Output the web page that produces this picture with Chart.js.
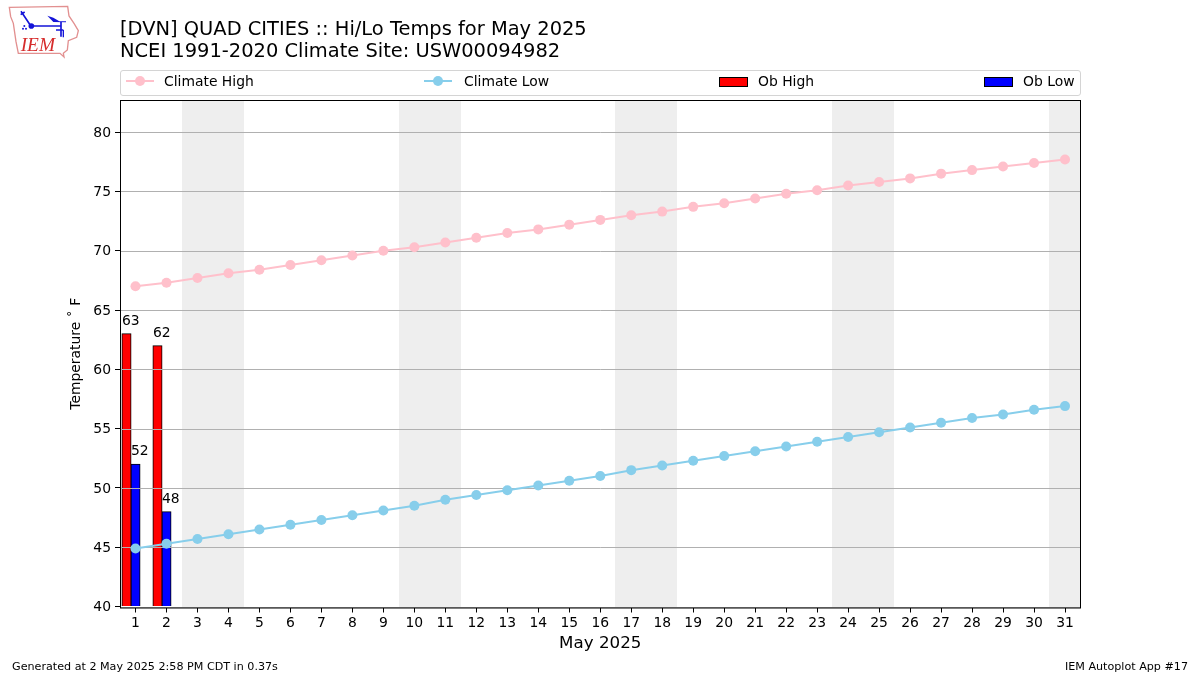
<!DOCTYPE html>
<html lang="en">
<head>
<meta charset="UTF-8">
<title>Hi/Lo Temps for May 2025</title>
<style>
    body { margin: 0; background: #fff; font-family: "DejaVu Sans", sans-serif; color: #000; }
    #wrap { position: relative; width: 1200px; height: 675px; overflow: hidden; }
    #wrap canvas { position: absolute; left: 0; top: 0; }
    .abs { position: absolute; white-space: nowrap; }
    #title { left: 120px; top: 18px; font-size: 19.44px; line-height: 22px; }
    #legend { left: 120px; top: 70px; width: 959px; height: 24px; border: 1px solid #d4d4d4; border-radius: 3px; }
    .foot { font-size: 11.15px; top: 660px; }
    .lg { font-size: 13.9px; top: 73px; line-height: 17px; }
</style>
<script src="https://cdn.jsdelivr.net/npm/chart.js"></script>
</head>
<body>
<div id="wrap">
    <canvas id="chart" width="1200" height="675"></canvas>

    <svg class="abs" style="left:0;top:0" width="90" height="65" viewBox="0 0 270 195">
        <path d="M28 22 L203 19 L207 48 L222 70 L235 92 L230 112 L205 122 L202 150 L190 160 L192 171 L180 160 L55 160 L48 125 L40 70 L32 50 Z" fill="none" stroke="#e29090" stroke-width="4"/>
        <path d="M93 78 L185 78 M183 66 L183 110 M63 34 L90 74 M62 44 L74 36" fill="none" stroke="#1414d8" stroke-width="5"/>
        <path d="M142 47 Q160 50 178 64 L198 64 L198 67 L160 66 Z" fill="#1414d8"/>
        <circle cx="94" cy="78" r="8.5" fill="#1414d8"/>
        <circle cx="73" cy="78" r="3" fill="#1414d8"/><circle cx="69" cy="86" r="3" fill="#1414d8"/><circle cx="78" cy="86" r="3" fill="#1414d8"/>
        <path d="M168 90 h22 M190 90 v22" stroke="#1414d8" stroke-width="4" fill="none"/>
        <text x="62" y="154" font-family="Liberation Serif" font-style="italic" font-size="58" fill="#d62c2c">IEM</text>
    </svg>

    <div id="title" class="abs">[DVN] QUAD CITIES :: Hi/Lo Temps for May 2025<br>NCEI 1991-2020 Climate Site: USW00094982</div>

    <div id="legend" class="abs"></div>
    <svg class="abs" style="left:120px;top:70px" width="960" height="25">
        <line x1="6" x2="34" y1="11" y2="11" stroke="#FFC0CB" stroke-width="2"/><circle cx="20" cy="11" r="5" fill="#FFC0CB"/>
        <line x1="304" x2="332" y1="11" y2="11" stroke="#87CEEB" stroke-width="2"/><circle cx="318" cy="11" r="5" fill="#87CEEB"/>
        <rect x="599.5" y="7.5" width="28" height="9" fill="#FF0000" stroke="#000"/>
        <rect x="864.5" y="7.5" width="28" height="9" fill="#0000FF" stroke="#000"/>
    </svg>
    <span class="abs lg" style="left:164px">Climate High</span>
    <span class="abs lg" style="left:464px">Climate Low</span>
    <span class="abs lg" style="left:758px">Ob High</span>
    <span class="abs lg" style="left:1023px">Ob Low</span>

    <span class="abs foot" style="left:12px">Generated at 2 May 2025 2:58 PM CDT in 0.37s</span>
    <span class="abs foot" style="right:12px">IEM Autoplot App #17</span>
</div>

<script>
// values
const days = ['1','2','3','4','5','6','7','8','9','10','11','12','13','14','15','16','17','18','19','20','21','22','23','24','25','26','27','28','29','30','31'];
const climateHigh = [67.0,67.3,67.7,68.1,68.4,68.8,69.2,69.6,70.0,70.3,70.7,71.1,71.5,71.8,72.2,72.6,73.0,73.3,73.7,74.0,74.4,74.8,75.1,75.5,75.8,76.1,76.5,76.8,77.1,77.4,77.7];
const climateLow = [44.9,45.3,45.7,46.1,46.5,46.9,47.3,47.7,48.1,48.5,49.0,49.4,49.8,50.2,50.6,51.0,51.5,51.9,52.3,52.7,53.1,53.5,53.9,54.3,54.7,55.1,55.5,55.9,56.2,56.6,56.9];
const obHigh = [63, 62];
const obLow = [52, 48];
const weekendDays = ['3','4','10','11','17','18','24','25','31'];
const yTicks = [40, 45, 50, 55, 60, 65, 70, 75, 80];

const FONT = '"DejaVu Sans", sans-serif';

// weekend bands, grid over the bars, bar labels and the frame
const decorations = {
    id: 'decorations',
    beforeDraw(chart) {
        const { ctx, chartArea, scales: { x } } = chart;
        const step = x.getPixelForTick(1) - x.getPixelForTick(0);
        ctx.save();
        ctx.fillStyle = '#eeeeee';
        weekendDays.forEach(d => {
            const mid = x.getPixelForTick(days.indexOf(d));
            const left = Math.round(mid - step / 2 - 0.25);
            const right = Math.min(Math.round(mid + step / 2 - 0.25), chartArea.right);
            ctx.fillRect(left, chartArea.top, right - left, chartArea.height);
        });
        ctx.restore();
    },
    afterDatasetDraw(chart, args) {
        // grid goes above the bars but under the climate lines
        if (args.index !== 2) return;
        const { ctx, chartArea, scales: { y } } = chart;
        ctx.save();
        ctx.strokeStyle = '#b0b0b0';
        ctx.lineWidth = 1;
        yTicks.forEach(t => {
            const py = Math.round(y.getPixelForValue(t)) + 0.5;
            ctx.beginPath();
            ctx.moveTo(chartArea.left, py);
            ctx.lineTo(chartArea.right, py);
            ctx.stroke();
        });
        ctx.restore();
    },
    afterDatasetsDraw(chart) {
        const { ctx, chartArea } = chart;
        ctx.save();
        ctx.font = '13.9px ' + FONT;
        ctx.fillStyle = '#000';
        ctx.textAlign = 'left';
        ctx.textBaseline = 'alphabetic';
        [2, 3].forEach(i => {
            chart.getDatasetMeta(i).data.forEach((bar, j) => {
                const v = chart.data.datasets[i].data[j];
                ctx.fillText(String(v), bar.x - bar.width / 2, bar.y - 9);
            });
        });
        ctx.strokeStyle = '#000';
        ctx.lineWidth = 1;
        const right = Math.round(chartArea.right) - 0.5;
        ctx.strokeRect(chartArea.left + 0.5, chartArea.top + 0.5, right - chartArea.left - 0.5, chartArea.height);
        ctx.restore();
    }
};

new Chart(document.getElementById('chart'), {
    data: {
        labels: days,
        datasets: [
            { type: 'line', label: 'Climate High', data: climateHigh, borderColor: '#FFC0CB', backgroundColor: '#FFC0CB', borderWidth: 2, pointRadius: 5, pointBorderWidth: 0, tension: 0, order: 0 },
            { type: 'line', label: 'Climate Low', data: climateLow, borderColor: '#87CEEB', backgroundColor: '#87CEEB', borderWidth: 2, pointRadius: 5, pointBorderWidth: 0, tension: 0, order: 0 },
            { type: 'bar', label: 'Ob High', data: obHigh, backgroundColor: '#FF0000', borderColor: '#000', borderWidth: 1, inflateAmount: 0.5, base: 40, order: 1 },
            { type: 'bar', label: 'Ob Low', data: obLow, backgroundColor: '#0000FF', borderColor: '#000', borderWidth: 1, inflateAmount: 0.5, base: 40, order: 2 },
            // empty slot so the low bar sits centred on its day
            { type: 'bar', label: '', data: [], order: 3 }
        ]
    },
    options: {
        responsive: false,
        animation: false,
        devicePixelRatio: 1,
        layout: { padding: { left: 68, top: 100, right: 119.5, bottom: 20 } },
        datasets: { bar: { barThickness: 9 } },
        plugins: { legend: { display: false }, tooltip: { enabled: false } },
        scales: {
            x: {
                type: 'category',
                offset: true,
                afterFit(s) { s.height = 47.5; },
                grid: { offset: false, drawOnChartArea: false, color: '#000', tickColor: '#000', tickLength: 5 },
                border: { color: '#000' },
                ticks: { color: '#000', font: { family: FONT, size: 13.9 }, padding: 3, maxRotation: 0, autoSkip: false },
                title: { display: true, text: 'May 2025', color: '#000', font: { family: FONT, size: 16.7 }, padding: { bottom: 1 } }
            },
            y: {
                min: 39.92,
                max: 82.71,
                afterFit(s) { s.width = 52; },
                afterBuildTicks(s) { s.ticks = yTicks.map(value => ({ value })); },
                grid: { drawOnChartArea: false, color: '#000', tickColor: '#000', tickLength: 5 },
                border: { color: '#000' },
                ticks: { color: '#000', font: { family: FONT, size: 13.9 }, padding: 4, labelOffset: 1 },
                title: { display: true, text: 'Temperature \u02DA\u2004F', color: '#000', font: { family: FONT, size: 13.9 }, padding: 0 }
            }
        }
    },
    plugins: [decorations]
});
</script>
</body>
</html>
